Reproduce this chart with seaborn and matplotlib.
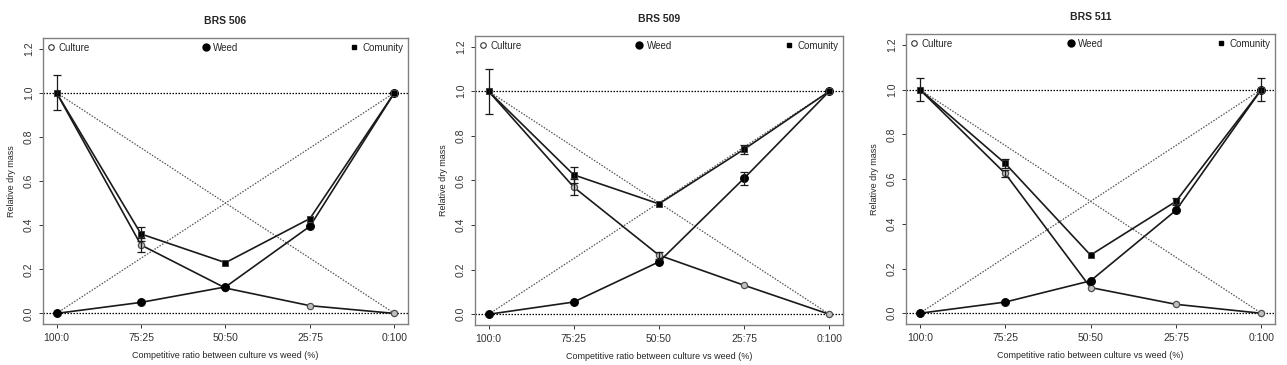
import numpy as np
import pandas as pd
import matplotlib
matplotlib.use('Agg')
import matplotlib.pyplot as plt
import seaborn as sns
from matplotlib.lines import Line2D

sns.set_style('white')
plt.rcParams['font.family'] = ['Liberation Sans', 'DejaVu Sans']

# datos
ratios = ['100:0', '75:25', '50:50', '25:75', '0:100']
cultivars = ['BRS 506', 'BRS 509', 'BRS 511']

culture_506 = [1.0, 0.31, 0.115, 0.035, 0.0]
weed_506 = [0.0, 0.05, 0.12, 0.395, 1.0]
comunity_506 = [1.0, 0.36, 0.23, 0.43, 1.0]
culture_err_506 = [0.0, 0.03, 0.0, 0.0, 0.0]
weed_err_506 = [0.0, 0.0, 0.0, 0.0, 0.0]
comunity_err_506 = [0.08, 0.03, 0.0, 0.0, 0.0]

culture_509 = [1.0, 0.57, 0.265, 0.13, 0.0]
weed_509 = [0.0, 0.055, 0.235, 0.61, 1.0]
comunity_509 = [1.0, 0.625, 0.495, 0.74, 1.0]
culture_err_509 = [0.0, 0.035, 0.015, 0.0, 0.0]
weed_err_509 = [0.0, 0.0, 0.0, 0.03, 0.0]
comunity_err_509 = [0.1, 0.035, 0.0, 0.02, 0.0]

culture_511 = [1.0, 0.625, 0.115, 0.04, 0.0]
weed_511 = [0.0, 0.05, 0.145, 0.46, 1.0]
comunity_511 = [1.0, 0.67, 0.26, 0.50, 1.0]
culture_err_511 = [0.05, 0.015, 0.0, 0.0, 0.0]
weed_err_511 = [0.0, 0.0, 0.0, 0.0, 0.05]
comunity_err_511 = [0.0, 0.02, 0.0, 0.015, 0.0]

series = {
    'BRS 506': (culture_506, weed_506, comunity_506, culture_err_506, weed_err_506, comunity_err_506),
    'BRS 509': (culture_509, weed_509, comunity_509, culture_err_509, weed_err_509, comunity_err_509),
    'BRS 511': (culture_511, weed_511, comunity_511, culture_err_511, weed_err_511, comunity_err_511),
}

x = np.arange(1, 6)

fig = plt.figure(figsize=(12.87, 3.65), dpi=100)
positions = [
    [0.0334, 0.1123, 0.2836, 0.7836],
    [0.369, 0.1096, 0.286, 0.792],
    [0.704, 0.1123, 0.2867, 0.7945],
]

estilos = {
    'Culture': dict(marker='o', ms=4.5, mfc='#c0c0c0', mec='#505050', mew=0.9),
    'Weed': dict(marker='o', ms=5.5, mfc='black', mec='black', mew=0.9),
    'Comunity': dict(marker='s', ms=3.8, mfc='black', mec='#404040', mew=0.7),
}

for name, pos in zip(cultivars, positions):
    ax = fig.add_axes(pos)
    cult, weed, com, e_cult, e_weed, e_com = series[name]

    # lineas de referencia
    ax.axhline(1.0, color='black', ls=(0, (1.2, 1.2)), lw=0.9, zorder=1)
    ax.axhline(0.0, color='black', ls=(0, (1.2, 1.2)), lw=0.9, zorder=1)
    ax.plot([1, 5], [1, 0], color='#555555', ls=(0, (1.2, 1.2)), lw=0.9, zorder=1)
    ax.plot([1, 5], [0, 1], color='#555555', ls=(0, (1.2, 1.2)), lw=0.9, zorder=1)

    df = pd.DataFrame({'x': np.tile(x, 3),
                       'y': cult + weed + com,
                       'err': e_cult + e_weed + e_com,
                       'serie': ['Culture'] * 5 + ['Weed'] * 5 + ['Comunity'] * 5})

    for serie in ['Culture', 'Weed', 'Comunity']:
        d = df[df['serie'] == serie]
        sns.lineplot(ax=ax, data=d, x='x', y='y', color='#1a1a1a', lw=1.2,
                     zorder=3, legend=False, **estilos[serie])
        d_err = d[d['err'] > 0]
        ax.errorbar(d_err['x'], d_err['y'], yerr=d_err['err'], fmt='none',
                    ecolor='#1a1a1a', elinewidth=0.9, capsize=3, capthick=0.9, zorder=4)

    ax.set_xlim(0.84, 5.16)
    ax.set_ylim(-0.048, 1.248)
    ax.set_xticks(x)
    ax.set_xticklabels(ratios, fontsize=7.5)
    ax.set_yticks([0, 0.2, 0.4, 0.6, 0.8, 1.0, 1.2])
    ax.set_yticklabels(['0.0', '0.2', '0.4', '0.6', '0.8', '1.0', '1.2'],
                       fontsize=7.5, rotation=90, va='center')
    ax.tick_params(axis='both', direction='out', length=3, width=0.7,
                   colors='#333333', bottom=True, left=True)
    ax.set_xlabel('Competitive ratio between culture vs weed (%)', fontsize=6.5, labelpad=6)
    ax.set_ylabel('Relative dry mass', fontsize=6.5, labelpad=6)
    ax.set_title(name, fontsize=7.5, fontweight='bold', pad=10)
    for s in ax.spines.values():
        s.set_color('#808080')
        s.set_linewidth(1.0)

    handles = [
        Line2D([], [], ls='none', marker='o', ms=4, mfc='white', mec='#333333', mew=0.8),
        Line2D([], [], ls='none', marker='o', ms=5, mfc='black', mec='black'),
        Line2D([], [], ls='none', marker='s', ms=3.5, mfc='black', mec='black'),
    ]
    ax.legend(handles, ['Culture', 'Weed', 'Comunity'], ncol=3, mode='expand',
              loc='upper left', bbox_to_anchor=(0, 1.0, 1, 0), frameon=False,
              fontsize=7, handlelength=0.6, handletextpad=0.5, borderaxespad=0.3,
              borderpad=0.2)

fig.savefig('out.png', dpi=100)
